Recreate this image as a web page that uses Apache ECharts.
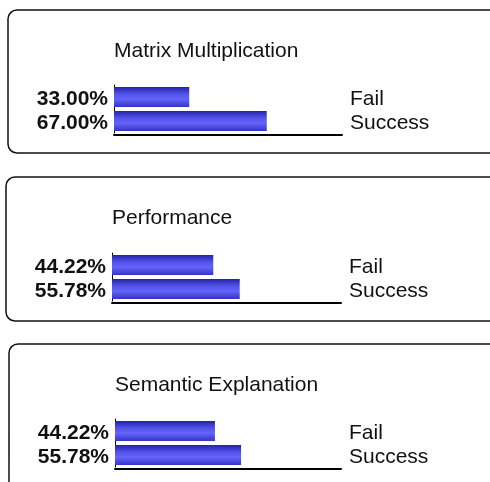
<!DOCTYPE html>
<html>
<head>
<meta charset="utf-8">
<script src="https://cdn.jsdelivr.net/npm/echarts@6/dist/echarts.min.js"></script>
<style>
  html, body { margin: 0; padding: 0; background: #fff; }
  #chart { width: 490px; height: 482px; }
</style>
</head>
<body>
<div id="chart"></div>
<script>
  const categories = ['Fail', 'Success']
  const panelTitles = ['Matrix Multiplication', 'Performance', 'Semantic Explanation']
  const matrixValues = [33.00, 67.00]
  const performanceValues = [44.22, 55.78]
  const semanticValues = [44.22, 55.78]
  const panelValues = [matrixValues, performanceValues, semanticValues]

  const font = '"Liberation Sans", Arial, sans-serif'

  // panel boxes and grid placement, one per sub chart
  const panels = [
    { box: [8, 10, 143], grid: [114, 85, 228] },
    { box: [6, 177, 144], grid: [112, 253, 229] },
    { box: [9, 344, 200], grid: [115, 419, 226] }
  ]

  const barColor = {
    type: 'linear', x: 0, y: 0, x2: 0, y2: 1,
    colorStops: [
      { offset: 0, color: '#2222a8' },
      { offset: 0.35, color: '#5252e8' },
      { offset: 0.6, color: '#6464fa' },
      { offset: 1, color: '#3434c8' }
    ]
  }

  let option = {
    animation: false,
    backgroundColor: '#fff',
    textStyle: { fontFamily: font },
    title: [],
    graphic: [],
    grid: [],
    xAxis: [],
    yAxis: [],
    series: []
  }

  panels.forEach((p, i) => {
    option.graphic.push({
      type: 'rect',
      shape: { x: p.box[0], y: p.box[1], width: 520, height: p.box[2], r: 9 },
      style: { fill: 'none', stroke: '#111', lineWidth: 1.5 },
      z: 0
    })
    option.title.push({
      text: panelTitles[i],
      left: p.grid[0] - 5,
      top: p.box[1] + 26,
      textStyle: { fontSize: 21, fontWeight: 'normal', color: '#111', fontFamily: font }
    })
    option.grid.push({ left: p.grid[0], top: p.grid[1], width: p.grid[2], height: 48, containLabel: false })
    option.xAxis.push({
      type: 'value', gridIndex: i, min: 0, max: 100, offset: 2,
      axisLine: { show: true, lineStyle: { color: '#000', width: 2 } },
      axisTick: { show: false },
      axisLabel: { show: false },
      splitLine: { show: false }
    })
    option.yAxis.push({
      type: 'category', gridIndex: i, inverse: true, data: categories,
      axisLine: { show: true, lineStyle: { color: '#000', width: 1 } },
      axisTick: { show: false },
      axisLabel: { show: false }
    })
    option.yAxis.push({
      type: 'category', gridIndex: i, inverse: true, position: 'right', data: categories,
      axisLine: { show: false },
      axisTick: { show: false },
      axisLabel: { interval: 0, margin: 8, verticalAlign: 'top', lineHeight: 5, fontSize: 21, color: '#111', fontFamily: font }
    })
    option.series.push({
      type: 'bar',
      xAxisIndex: i,
      yAxisIndex: i * 2,
      barWidth: 20,
      data: panelValues[i],
      itemStyle: { color: barColor },
      label: {
        show: true,
        position: 'left',
        distance: 6,
        offset: [0, 2],
        formatter: d => d.value.toFixed(2) + '%',
        fontSize: 21,
        fontWeight: 'bold',
        color: '#111',
        fontFamily: font
      }
    })
  })

  let chart = echarts.init(document.getElementById('chart'))
  chart.setOption(option)
</script>
</body>
</html>
